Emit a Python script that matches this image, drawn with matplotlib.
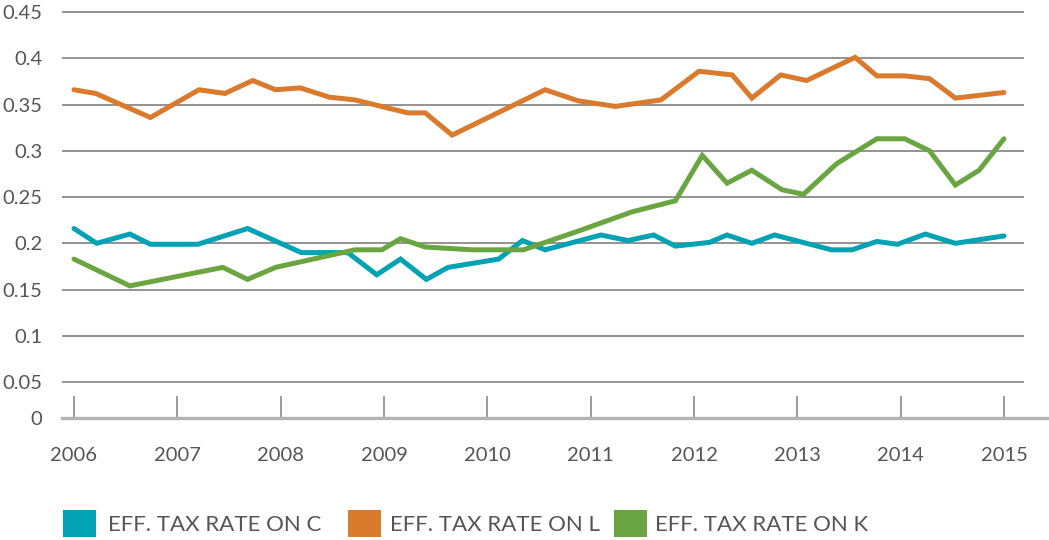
import matplotlib

matplotlib.use('Agg')

import matplotlib.pyplot as plt
from matplotlib.patches import Rectangle
from matplotlib.lines import Line2D

# values (x in decimal years)
years_c = [2006.0, 2006.22, 2006.54, 2006.74, 2007.2, 2007.68, 2008.2, 2008.65, 2008.93,
           2009.16, 2009.41, 2009.62, 2010.11, 2010.34, 2010.56, 2011.1, 2011.36, 2011.61,
           2011.82, 2012.15, 2012.32, 2012.56, 2012.78, 2013.33, 2013.53, 2013.77, 2013.97,
           2014.24, 2014.53, 2015.0]
tax_c = [0.216, 0.200, 0.210, 0.199, 0.199, 0.216, 0.190, 0.190, 0.166,
         0.183, 0.161, 0.174, 0.183, 0.203, 0.193, 0.209, 0.203, 0.209,
         0.197, 0.201, 0.209, 0.200, 0.209, 0.193, 0.193, 0.202, 0.199,
         0.210, 0.200, 0.208]

years_l = [2006.0, 2006.21, 2006.74, 2007.21, 2007.46, 2007.73, 2007.95, 2008.19, 2008.47,
           2008.72, 2009.23, 2009.4, 2009.66, 2010.56, 2010.88, 2011.24, 2011.68, 2012.05,
           2012.37, 2012.56, 2012.84, 2013.09, 2013.56, 2013.77, 2014.04, 2014.28, 2014.53,
           2015.0]
tax_l = [0.366, 0.362, 0.336, 0.366, 0.362, 0.376, 0.366, 0.368, 0.358,
         0.355, 0.341, 0.341, 0.317, 0.366, 0.354, 0.348, 0.355, 0.386,
         0.382, 0.357, 0.382, 0.376, 0.401, 0.381, 0.381, 0.378, 0.357,
         0.363]

years_k = [2006.0, 2006.54, 2007.44, 2007.68, 2007.95, 2008.72, 2008.98, 2009.16, 2009.4,
           2009.85, 2010.35, 2010.9, 2011.4, 2011.82, 2012.08, 2012.32, 2012.56, 2012.85,
           2013.06, 2013.38, 2013.77, 2014.04, 2014.28, 2014.53, 2014.76, 2015.0]
tax_k = [0.183, 0.154, 0.174, 0.161, 0.174, 0.193, 0.193, 0.205, 0.196,
         0.193, 0.193, 0.214, 0.234, 0.246, 0.295, 0.265, 0.279, 0.258,
         0.253, 0.286, 0.313, 0.313, 0.300, 0.263, 0.279, 0.313]

year_labels = [str(y) for y in range(2006, 2016)]
ytick_vals = [0.05, 0.1, 0.15, 0.2, 0.25, 0.3, 0.35, 0.4, 0.45]
ytick_labels = ['0.05', '0.1', '0.15', '0.2', '0.25', '0.3', '0.35', '0.4', '0.45']
series_names = ['EFF. TAX RATE ON C', 'EFF. TAX RATE ON L', 'EFF. TAX RATE ON K']
colors = ['#00A2B3', '#DA7A2C', '#6BA541']

plt.rcParams['font.family'] = ['Lato', 'DejaVu Sans']
txt_col = '#555555'
W, H = 1049, 540

fig = plt.figure(figsize=(W / 100, H / 100), dpi=100)
ax = fig.add_axes([62 / W, 1 - 418 / H, (1024 - 62) / W, (418 - 10) / H])

ax.plot(years_c, tax_c, color=colors[0], lw=3.6, solid_capstyle='round', solid_joinstyle='miter', zorder=3)
ax.plot(years_l, tax_l, color=colors[1], lw=3.6, solid_capstyle='round', solid_joinstyle='miter', zorder=3)
ax.plot(years_k, tax_k, color=colors[2], lw=3.6, solid_capstyle='round', solid_joinstyle='miter', zorder=4)

# bottom of the axis sits a bit above zero in the original
y_bottom = 0.0112
ax.set_ylim(y_bottom, 0.4522)
ax.set_xlim(2005.884, 2015.194)

ax.set_yticks([y_bottom] + ytick_vals)
ax.set_yticklabels(['0'] + ytick_labels)
ax.set_xticks(range(2006, 2016))
ax.set_xticklabels(year_labels)

ax.yaxis.grid(True, color='#8a8a8a', lw=1.3)
ax.set_axisbelow(True)
for s in ax.spines.values():
    s.set_visible(False)

ax.tick_params(axis='y', length=0, pad=14, labelsize=14.5, labelcolor=txt_col)
ax.tick_params(axis='x', direction='in', length=16, width=1.2, color='#8a8a8a',
               pad=21, labelsize=14.5, labelcolor=txt_col)

# baseline runs past the plot area to the right edge
ax.add_line(Line2D([0, (W - 62) / 962], [0, 0], transform=ax.transAxes,
                   color='#b3b3b3', lw=2.4, clip_on=False, zorder=2))

# legend drawn by hand: square swatch + caption
swatch_x = [63, 348, 614]
text_x = [108, 390, 655]
for sx, tx, c, name in zip(swatch_x, text_x, colors, series_names):
    fig.patches.append(Rectangle((sx / W, 1 - 537 / H), 33 / W, 27 / H,
                                 transform=fig.transFigure, facecolor=c, edgecolor='none'))
    fig.text(tx / W, 1 - 525 / H, name, fontsize=16, color=txt_col, ha='left', va='center')

fig.savefig('out.png', dpi=100)
